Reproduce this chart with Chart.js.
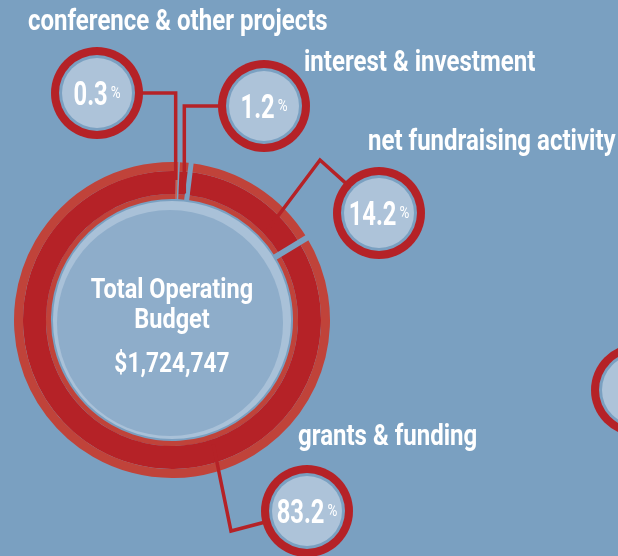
<!DOCTYPE html>
<html>
<head>
<meta charset="utf-8">
<script src="https://cdn.jsdelivr.net/npm/chart.js@4"></script>
<style>
  html, body { margin: 0; padding: 0; background: #7aa0c1; overflow: hidden; }
  #wrap { width: 618px; height: 556px; }
</style>
</head>
<body>
<div id="wrap"><canvas id="chart" width="618" height="556"></canvas></div>
<script>
const categories = ["conference & other projects", "interest & investment", "net fundraising activity", "grants & funding"];
const shares = [0.3, 1.2, 14.2, 83.2];
const totalBudget = 1724747;
const centerLines = ["Total Operating", "Budget"];

const BG = "#7aa0c1";
const RED = "#b52227";
const RED_LIGHT = "#c0433a";
const CONF_RED = "#c9604f";
const RIM = "#a9c1d8";
const INNER = "#8eadca";
const BUBBLE = "#adc3d9";
const WHITE = "#ffffff";
const FONT = "Roboto, sans-serif";
const SQUEEZE = 0.84; // condensed look
const NUM_SQUEEZE = 0.72;

// label bubbles: centre, where the connector leaves the ring (fraction of arc, radius), optional bend
const callouts = [
  { bubble: [97, 93], at: 0.0, r: 140 },
  { bubble: [264, 106], at: 0.68, r: 127 },
  { bubble: [379, 213], at: 0.77, r: 130, elbow: [320, 160] },
  { bubble: [307, 511], at: 0.34, r: 131, elbow: [231, 531] },
];
const labelSpots = [[28, 30], [304, 71], [368, 150], [298, 445]];
const gapWidths = [0, 1.5, 5, 6];
const extraBubble = [637, 390];

function circle(ctx, x, y, r, color) {
  ctx.beginPath();
  ctx.arc(x, y, r, 0, Math.PI * 2);
  ctx.fillStyle = color;
  ctx.fill();
}

function drawBubble(ctx, x, y) {
  circle(ctx, x, y, 46, RED);
  circle(ctx, x, y, 38, BG);
  circle(ctx, x, y, 35, BUBBLE);
}

function measureNarrow(ctx, text, font, sq = SQUEEZE) {
  ctx.font = font;
  return ctx.measureText(text).width * sq;
}

function narrowText(ctx, text, x, y, font, align, sq = SQUEEZE) {
  const w = measureNarrow(ctx, text, font, sq);
  const left = align === "center" ? x - w / 2 : x;
  ctx.save();
  ctx.translate(left, y);
  ctx.scale(sq, 1);
  ctx.textAlign = "left";
  ctx.textBaseline = "alphabetic";
  ctx.fillStyle = WHITE;
  ctx.font = font;
  ctx.fillText(text, 0, 0);
  ctx.restore();
  return w;
}

const decor = {
  id: "decor",
  beforeDatasetsDraw(chart) {
    const ctx = chart.ctx;
    const inner = chart.getDatasetMeta(2).data[0];
    ctx.save();
    circle(ctx, inner.x, inner.y, inner.innerRadius - 2, RIM);
    circle(ctx, inner.x - 2, inner.y + 3, inner.innerRadius - 8, INNER);
    ctx.restore();
  },
  afterDatasetsDraw(chart) {
    const ctx = chart.ctx;
    const outerArcs = chart.getDatasetMeta(0).data;
    const innerArcs = chart.getDatasetMeta(2).data;
    const cx = outerArcs[0].x, cy = outerArcs[0].y;
    ctx.save();

    // gaps between segments
    ctx.strokeStyle = BG;
    outerArcs.forEach((arc, i) => {
      if (!gapWidths[i]) return;
      const a = arc.startAngle;
      const r0 = innerArcs[i].innerRadius - 1, r1 = arc.outerRadius + 2;
      ctx.lineWidth = gapWidths[i];
      ctx.beginPath();
      ctx.moveTo(cx + r0 * Math.cos(a), cy + r0 * Math.sin(a));
      ctx.lineTo(cx + r1 * Math.cos(a), cy + r1 * Math.sin(a));
      ctx.stroke();
    });

    // connectors
    ctx.strokeStyle = RED;
    ctx.lineWidth = 3.5;
    ctx.lineJoin = "miter";
    callouts.forEach((c, i) => {
      const arc = outerArcs[i];
      const a = arc.startAngle + c.at * (arc.endAngle - arc.startAngle);
      const ax = cx + c.r * Math.cos(a), ay = cy + c.r * Math.sin(a);
      const [bx, by] = c.bubble;
      ctx.beginPath();
      ctx.moveTo(ax, ay);
      if (c.elbow) {
        const [ex, ey] = c.elbow;
        const d = Math.hypot(ex - bx, ey - by);
        ctx.lineTo(ex, ey);
        ctx.lineTo(bx + (ex - bx) / d * 44, by + (ey - by) / d * 44);
      } else {
        const side = ax > bx ? 1 : -1;
        ctx.lineTo(ax, by);
        ctx.lineTo(bx + side * 44, by);
      }
      ctx.stroke();
    });

    // bubbles with percentages
    drawBubble(ctx, extraBubble[0], extraBubble[1]);
    const numFont = "bold 33px " + FONT;
    const pctFont = "16px " + FONT;
    callouts.forEach((c, i) => {
      const [bx, by] = c.bubble;
      drawBubble(ctx, bx, by);
      const num = shares[i].toFixed(1);
      const w1 = measureNarrow(ctx, num, numFont, NUM_SQUEEZE);
      const w2 = measureNarrow(ctx, "%", pctFont);
      const left = bx - (w1 + w2 + 3) / 2;
      narrowText(ctx, num, left, by + 12, numFont, "left", NUM_SQUEEZE);
      narrowText(ctx, "%", left + w1 + 3, by + 5, pctFont, "left");
    });

    // category labels
    categories.forEach((name, i) => {
      narrowText(ctx, name, labelSpots[i][0], labelSpots[i][1], "bold 28.6px " + FONT, "left");
    });

    // centre text
    narrowText(ctx, centerLines[0], cx, cy - 22, "bold 28px " + FONT, "center");
    narrowText(ctx, centerLines[1], cx, cy + 8, "bold 28px " + FONT, "center");
    narrowText(ctx, "$" + totalBudget.toLocaleString("en-US"), cx, cy + 52, "bold 27px " + FONT, "center");
    ctx.restore();
  }
};

const ringColors = (base) => shares.map((v, i) => (i === 0 ? CONF_RED : base));

new Chart(document.getElementById("chart"), {
  type: "doughnut",
  data: {
    labels: categories,
    datasets: [
      { data: shares, weight: 9, backgroundColor: ringColors(RED_LIGHT) },
      { data: shares, weight: 23, backgroundColor: ringColors(RED) },
      { data: shares, weight: 5, backgroundColor: ringColors(RED_LIGHT) },
    ],
  },
  options: {
    responsive: false,
    animation: false,
    devicePixelRatio: 1,
    rotation: 1.5,
    cutout: "76.6%",
    borderWidth: 0,
    layout: { padding: { left: 14, right: 288, top: 162, bottom: 78 } },
    plugins: { legend: { display: false }, tooltip: { enabled: false } },
  },
  plugins: [decor],
});
</script>
</body>
</html>
